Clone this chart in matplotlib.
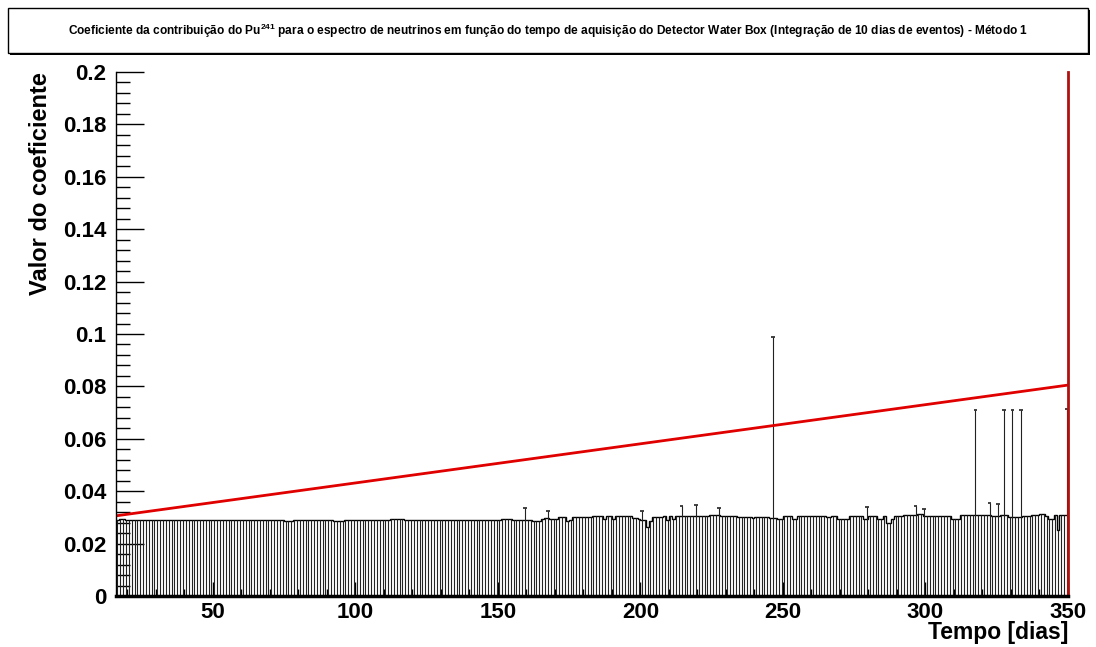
import matplotlib
matplotlib.use("Agg")
import matplotlib.pyplot as plt
from matplotlib.patches import Rectangle
from matplotlib.ticker import MultipleLocator
import numpy as np

plt.rcParams['font.family'] = ['Liberation Sans', 'DejaVu Sans']
plt.rcParams['mathtext.fontset'] = 'custom'
plt.rcParams['mathtext.rm'] = 'Liberation Sans'
plt.rcParams['mathtext.bf'] = 'Liberation Sans:bold'

title = (r"Coeficiente da contribuição do Pu$^{\mathbf{241}}$ para o espectro de neutrinos em função "
         r"do tempo de aquisição do Detector Water Box (Integração de 10 dias de eventos) - Método 1")
xlabel = "Tempo [dias]"
ylabel = "Valor do coeficiente"

# one bin per day, lower edges 16..349, values in units of 1e-4
first_day = 16
coef_e4 = [
    290, 292, 292, 291, 290, 290, 290, 290, 290, 290,   # 16
    290, 290, 290, 290, 290, 290, 290, 291, 290, 290,   # 26
    290, 290, 290, 290, 290, 290, 290, 290, 290, 290,   # 36
    290, 290, 289, 289, 289, 290, 290, 290, 290, 290,   # 46
    290, 290, 290, 290, 290, 290, 290, 290, 290, 290,   # 56
    290, 290, 290, 290, 290, 290, 290, 290, 290, 288,   # 66
    288, 288, 289, 290, 290, 290, 290, 290, 290, 290,   # 76
    290, 290, 290, 290, 290, 290, 288, 288, 288, 288,   # 86
    290, 290, 290, 290, 290, 290, 290, 290, 290, 290,   # 96
    290, 290, 290, 290, 290, 290, 292, 293, 293, 293,   # 106
    292, 290, 290, 290, 290, 290, 290, 290, 290, 290,   # 116
    290, 290, 290, 290, 290, 290, 290, 290, 290, 290,   # 126
    290, 290, 290, 290, 290, 290, 290, 291, 290, 290,   # 136
    290, 290, 290, 290, 290, 293, 293, 293, 292, 290,   # 146
    290, 290, 290, 290, 290, 290, 287, 287, 287, 292,   # 156
    299, 296, 293, 293, 293, 303, 303, 303, 288, 289,   # 166
    303, 303, 303, 303, 303, 303, 303, 305, 305, 305,   # 176
    305, 294, 307, 307, 293, 307, 307, 305, 305, 305,   # 186
    305, 296, 296, 293, 290, 290, 265, 288, 303, 303,   # 196
    303, 303, 304, 290, 307, 294, 305, 305, 305, 305,   # 206
    307, 307, 307, 307, 307, 307, 307, 307, 309, 309,   # 216
    309, 309, 305, 305, 305, 305, 305, 305, 302, 302,   # 226
    302, 302, 302, 296, 302, 302, 302, 302, 302, 299,   # 236
    299, 296, 295, 295, 304, 304, 304, 295, 295, 304,   # 246
    304, 304, 304, 304, 304, 304, 304, 304, 304, 302,   # 256
    302, 304, 304, 293, 293, 293, 293, 304, 307, 307,   # 266
    307, 307, 294, 294, 305, 307, 307, 295, 295, 304,   # 276
    280, 280, 294, 307, 307, 307, 309, 309, 309, 309,   # 286
    309, 312, 312, 307, 307, 307, 307, 304, 304, 304,   # 296
    307, 307, 304, 294, 294, 294, 308, 308, 308, 308,   # 306
    308, 308, 308, 308, 308, 308, 308, 304, 304, 304,   # 316
    311, 311, 311, 303, 303, 303, 303, 303, 305, 305,   # 326
    305, 308, 308, 308, 312, 312, 305, 293, 293, 308,   # 336
    252, 309, 309, 309,                                 # 346
]

# bins whose upper error reaches above the value
spike_days = [159, 167, 200, 214, 219, 227, 246, 279, 296, 299, 317, 322, 325, 327, 330, 333, 349]
spike_tops = [0.0336, 0.0324, 0.0324, 0.0345, 0.0349, 0.0336, 0.0990, 0.0340, 0.0345, 0.0333,
              0.0710, 0.0356, 0.0350, 0.0710, 0.0710, 0.0710, 0.0715]

# fitted straight line (red)
fit_x = [16, 350]
fit_y = [0.0306, 0.0805]

values = np.array(coef_e4) * 1e-4
edges = np.arange(first_day, first_day + len(values) + 1)
centers = edges[:-1] + 0.5
tops = values.copy()
for d, t in zip(spike_days, spike_tops):
    tops[d - first_day] = t

fig = plt.figure(figsize=(10.96, 6.47), dpi=100)
ax = fig.add_axes([116 / 1096, 1 - 596 / 647, (1068 - 116) / 1096, (596 - 72) / 647])

ax.vlines(centers, 0, tops, color='#222222', linewidth=0.8)
ax.stairs(values, edges, color='black', linewidth=1.0, baseline=None)
spike_x = np.array(spike_days) + 0.5
ax.hlines(spike_tops, spike_x - 0.6, spike_x + 0.6, color='#222222', linewidth=1.2)
ax.plot(fit_x, fit_y, color='#e00000', linewidth=2)
ax.axvline(350, color='#b01010', linewidth=2, clip_on=False)

ax.set_xlim(16, 350)
ax.set_ylim(0, 0.2)

ax.xaxis.set_major_locator(MultipleLocator(50))
ax.xaxis.set_minor_locator(MultipleLocator(10))
ax.yaxis.set_minor_locator(MultipleLocator(0.004))
yticks = np.arange(0, 0.2001, 0.02)
ax.set_yticks(yticks)
ax.set_yticklabels(["0" if v == 0 else ("%.2f" % v).rstrip('0') for v in yticks])

ax.tick_params(axis='both', which='both', direction='in', colors='black',
               labelsize=16, top=False, right=False)
ax.tick_params(axis='y', which='major', length=20, width=1, pad=7)
ax.tick_params(axis='y', which='minor', length=10, width=1)
ax.tick_params(axis='x', which='major', length=10, width=1, pad=4)
ax.tick_params(axis='x', which='minor', length=5, width=1)
for lab in ax.get_xticklabels() + ax.get_yticklabels():
    lab.set_fontweight('bold')

ax.spines['top'].set_visible(False)
ax.spines['right'].set_visible(False)
ax.spines['bottom'].set_linewidth(2.5)
ax.spines['left'].set_linewidth(1)

fig.text(1068 / 1096, 1 - 633 / 647, xlabel, ha='right', va='center',
         fontsize=16.5, fontweight='bold')
fig.text(41 / 1096, 1 - 72 / 647, ylabel, ha='center', va='top', rotation=90,
         fontsize=17, fontweight='bold')

# title box with shadow
fig.patches.append(Rectangle((10 / 1096, 1 - 55 / 647), 1080 / 1096, 45 / 647,
                             transform=fig.transFigure, facecolor='black', edgecolor='none'))
fig.patches.append(Rectangle((8 / 1096, 1 - 53 / 647), 1080 / 1096, 45 / 647,
                             transform=fig.transFigure, facecolor='white', edgecolor='black',
                             linewidth=1))
fig.text(548 / 1096, 1 - 31 / 647, title, ha='center', va='center', fontsize=8.6,
         fontweight='bold')

fig.savefig("out.png", dpi=100)
